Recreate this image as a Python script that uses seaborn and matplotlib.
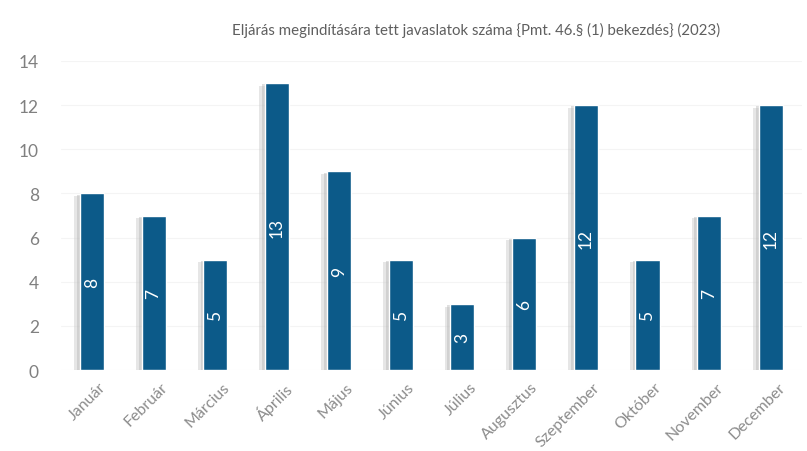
import matplotlib
matplotlib.use("Agg")
import matplotlib.pyplot as plt
import matplotlib.patheffects as pe
import matplotlib.transforms as mtrans
import seaborn as sns
import pandas as pd

months = ["Január", "Február", "Március", "Április", "Május", "Június",
          "Július", "Augusztus", "Szeptember", "Október", "November", "December"]
values = [8, 7, 5, 13, 9, 5, 3, 6, 12, 5, 7, 12]
title = "Eljárás megindítására tett javaslatok száma {Pmt. 46.§ (1) bekezdés} (2023)"

df = pd.DataFrame({"month": months, "value": values})

sns.set_theme(style="white")
plt.rcParams["font.family"] = ["Lato", "DejaVu Sans"]

fig = plt.figure(figsize=(8.07, 4.52), dpi=100)
ax = fig.add_axes([0.0756, 0.179, 0.918, 0.684])

bar_color = "#0c5a89"
sns.barplot(data=df, x="month", y="value", color=bar_color, width=0.39,
            saturation=1, ax=ax, zorder=3)

for p in ax.patches:
    p.set_path_effects([pe.SimplePatchShadow(offset=(-4, -2), shadow_rgbFace="#c8c8c8", alpha=0.45),
                        pe.SimplePatchShadow(offset=(-2, -1), shadow_rgbFace="#b8b8b8", alpha=0.45),
                        pe.Normal()])

for p, v in zip(ax.patches, values):
    ax.text(p.get_x() + p.get_width() / 2, v / 2, str(v), rotation=90,
            ha="center", va="center", color="white", fontsize=12.5, zorder=5)

ax.set_ylim(0, 14)
ax.set_yticks(range(0, 15, 2))
ax.set_xlim(-0.5, len(months) - 0.5)
ax.set_xlabel("")
ax.set_ylabel("")
ax.yaxis.grid(True, color="#f4f4f4", linewidth=0.8, zorder=0)
for s in ax.spines.values():
    s.set_visible(False)
ax.tick_params(axis="y", labelsize=12.5, labelcolor="#808080", length=0, pad=16)
ax.tick_params(axis="x", labelsize=11.5, labelcolor="#8c8c8c", length=0, pad=7)
offset = mtrans.ScaledTranslation(7 / 100, 0, fig.dpi_scale_trans)
for lab in ax.get_xticklabels():
    lab.set_rotation(45)
    lab.set_ha("right")
    lab.set_rotation_mode("anchor")
    lab.set_transform(lab.get_transform() + offset)

fig.text(0.59, 0.933, title, ha="center", va="center", fontsize=10.8, color="#5f5f5f")
fig.savefig("out.png", dpi=100, facecolor="white")
